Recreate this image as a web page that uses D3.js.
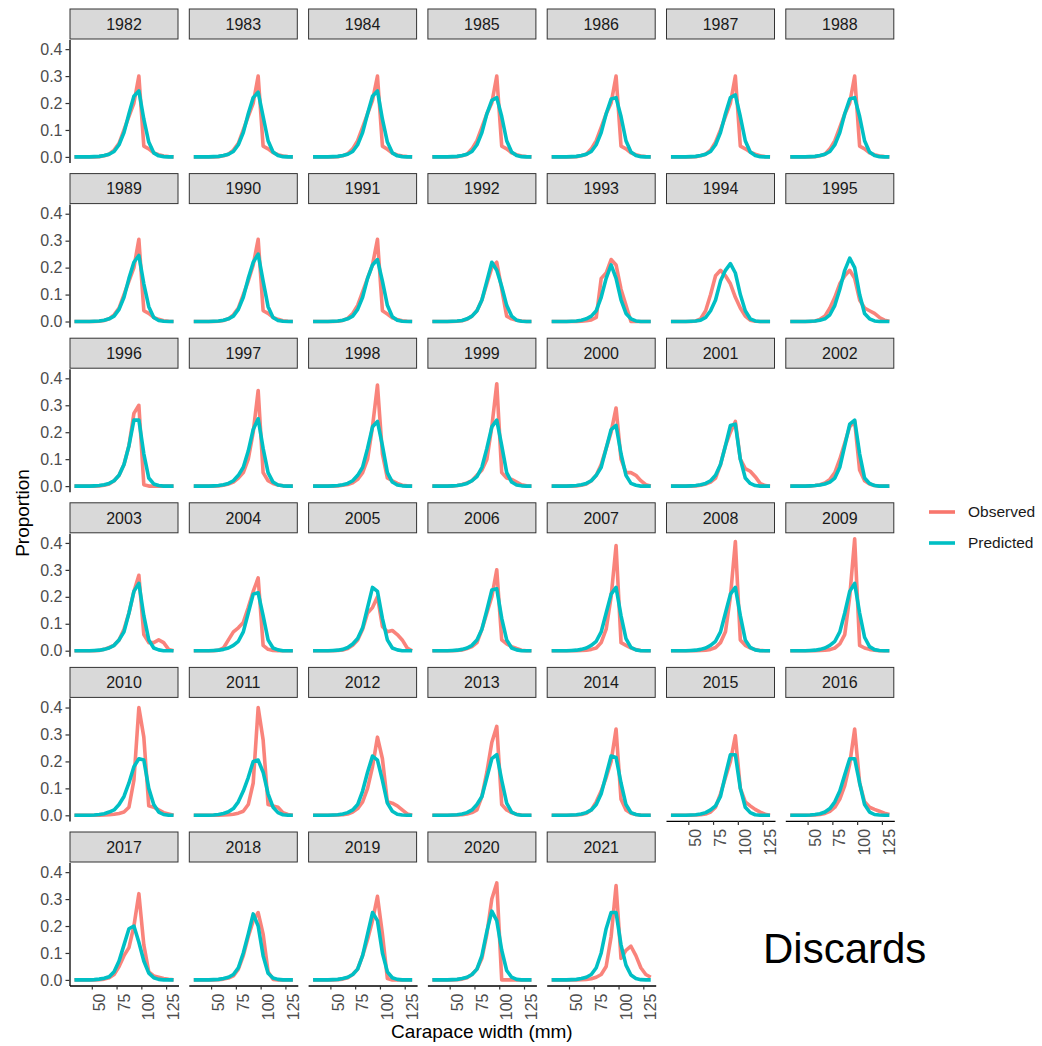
<!DOCTYPE html>
<html>
<head>
<meta charset="utf-8">
<script src="https://cdn.jsdelivr.net/npm/d3@7"></script>
<style>
  body { margin: 0; background: #fff; }
  svg text { font-family: "Liberation Sans", Arial, sans-serif; }
</style>
</head>
<body>
<div id="chart"></div>
<script>
// carapace width bins (mm)
var widths = [32.5, 37.5, 42.5, 47.5, 52.5, 57.5, 62.5, 67.5, 72.5, 77.5, 82.5,
              87.5, 92.5, 97.5, 102.5, 107.5, 112.5, 117.5, 122.5, 127.5, 132.5];

var years = [1982, 1983, 1984, 1985, 1986, 1987, 1988,
             1989, 1990, 1991, 1992, 1993, 1994, 1995,
             1996, 1997, 1998, 1999, 2000, 2001, 2002,
             2003, 2004, 2005, 2006, 2007, 2008, 2009,
             2010, 2011, 2012, 2013, 2014, 2015, 2016,
             2017, 2018, 2019, 2020, 2021];

var observed = [
  [0,0,0,0,0,0.001,0.004,0.01,0.025,0.05,0.1,0.15,0.2,0.3,0.04,0.03,0.015,0.008,0.003,0.001,0],
  [0,0,0,0,0,0.001,0.004,0.01,0.025,0.05,0.1,0.15,0.2,0.3,0.04,0.03,0.016,0.008,0.003,0.001,0],
  [0,0,0,0,0,0.001,0.004,0.012,0.03,0.06,0.11,0.16,0.21,0.3,0.04,0.028,0.014,0.007,0.003,0.001,0],
  [0,0,0,0,0,0.001,0.004,0.01,0.03,0.06,0.11,0.16,0.2,0.3,0.04,0.03,0.015,0.008,0.003,0.001,0],
  [0,0,0,0,0,0.001,0.004,0.01,0.03,0.06,0.11,0.16,0.2,0.3,0.04,0.03,0.015,0.008,0.003,0.001,0],
  [0,0,0,0,0,0.001,0.004,0.01,0.025,0.055,0.1,0.15,0.2,0.3,0.04,0.03,0.018,0.01,0.004,0.001,0],
  [0,0,0,0,0,0.001,0.004,0.01,0.03,0.06,0.11,0.16,0.2,0.3,0.04,0.03,0.015,0.008,0.003,0.001,0],
  [0,0,0,0,0,0.001,0.004,0.01,0.025,0.05,0.1,0.15,0.2,0.305,0.04,0.03,0.015,0.008,0.003,0.001,0],
  [0,0,0,0,0,0.001,0.004,0.01,0.025,0.05,0.1,0.15,0.21,0.305,0.04,0.03,0.015,0.008,0.003,0.001,0],
  [0,0,0,0,0,0.001,0.004,0.012,0.03,0.06,0.11,0.16,0.21,0.305,0.04,0.028,0.014,0.007,0.003,0.001,0],
  [0,0,0,0,0,0.001,0.003,0.008,0.02,0.04,0.08,0.14,0.2,0.22,0.12,0.02,0.01,0.005,0.002,0,0],
  [0,0,0,0,0,0,0.001,0.003,0.006,0.015,0.16,0.18,0.23,0.21,0.12,0.06,0,0,0,0,0],
  [0,0,0,0,0,0.002,0.01,0.04,0.1,0.17,0.19,0.17,0.14,0.09,0.05,0.02,0.005,0.001,0,0,0],
  [0,0,0,0,0,0.002,0.008,0.02,0.05,0.09,0.14,0.17,0.19,0.16,0.08,0.05,0.04,0.03,0.015,0.005,0.001],
  [0,0,0,0,0,0.001,0.003,0.008,0.02,0.04,0.08,0.15,0.27,0.3,0.005,0,0,0,0,0,0],
  [0,0,0,0,0,0.001,0.003,0.008,0.015,0.03,0.05,0.1,0.2,0.355,0.05,0.02,0.01,0.004,0.001,0,0],
  [0,0,0,0,0,0.001,0.003,0.006,0.012,0.025,0.05,0.1,0.22,0.375,0.12,0.03,0.02,0.01,0.003,0.001,0],
  [0,0,0,0,0,0.002,0.006,0.012,0.02,0.04,0.06,0.1,0.22,0.38,0.05,0.03,0.025,0.015,0.005,0.001,0],
  [0,0,0,0,0,0.001,0.003,0.008,0.02,0.04,0.08,0.14,0.2,0.29,0.1,0.05,0.05,0.04,0.02,0.005,0],
  [0,0,0,0,0,0.001,0.003,0.008,0.015,0.03,0.08,0.15,0.2,0.24,0.1,0.065,0.055,0.035,0.01,0.002,0],
  [0,0,0,0,0,0.002,0.005,0.012,0.025,0.05,0.1,0.16,0.22,0.24,0.06,0.02,0.008,0.002,0,0,0],
  [0,0,0,0,0,0.001,0.005,0.012,0.02,0.04,0.08,0.14,0.22,0.28,0.06,0.03,0.03,0.04,0.03,0.005,0],
  [0,0,0,0,0,0.002,0.01,0.04,0.07,0.085,0.105,0.16,0.22,0.27,0.02,0.005,0.001,0,0,0,0],
  [0,0,0,0,0,0.001,0.003,0.008,0.02,0.04,0.08,0.14,0.16,0.2,0.09,0.07,0.075,0.06,0.04,0.01,0],
  [0,0,0,0,0,0.001,0.003,0.008,0.015,0.03,0.08,0.14,0.2,0.3,0.04,0.025,0.015,0.008,0.002,0,0],
  [0,0,0,0,0,0,0.001,0.002,0.005,0.01,0.03,0.08,0.2,0.39,0.03,0.02,0.01,0.004,0.001,0,0],
  [0,0,0,0,0,0,0.001,0.002,0.005,0.012,0.03,0.07,0.2,0.405,0.04,0.02,0.01,0.004,0.001,0,0],
  [0,0,0,0,0,0,0.001,0.002,0.004,0.01,0.025,0.06,0.2,0.415,0.02,0.01,0.005,0.002,0,0,0],
  [0,0,0,0,0,0,0.001,0.002,0.004,0.007,0.012,0.03,0.13,0.4,0.29,0.035,0.03,0.02,0.01,0.005,0],
  [0,0,0,0,0,0,0.001,0.002,0.004,0.008,0.015,0.04,0.12,0.4,0.28,0.04,0.035,0.03,0.01,0.003,0],
  [0,0,0,0,0,0.001,0.002,0.005,0.012,0.025,0.05,0.1,0.18,0.29,0.21,0.05,0.045,0.035,0.02,0.005,0],
  [0,0,0,0,0,0.001,0.002,0.005,0.01,0.02,0.07,0.16,0.27,0.33,0.04,0.02,0.01,0.004,0.001,0,0],
  [0,0,0,0,0,0.001,0.003,0.008,0.02,0.05,0.09,0.14,0.2,0.32,0.06,0.02,0.008,0.003,0.001,0,0],
  [0,0,0,0,0,0.001,0.002,0.005,0.012,0.03,0.08,0.14,0.2,0.295,0.1,0.05,0.035,0.022,0.012,0.004,0],
  [0,0,0,0,0,0.001,0.003,0.007,0.015,0.03,0.06,0.11,0.19,0.32,0.12,0.05,0.03,0.022,0.015,0.008,0.003],
  [0,0,0,0,0,0.001,0.003,0.008,0.02,0.05,0.09,0.12,0.2,0.32,0.13,0.03,0.015,0.01,0.005,0.002,0],
  [0,0,0,0,0,0.001,0.003,0.007,0.015,0.04,0.09,0.16,0.22,0.25,0.17,0.03,0.002,0,0,0,0],
  [0,0,0,0,0,0.001,0.003,0.008,0.02,0.04,0.09,0.15,0.22,0.31,0.17,0.005,0,0,0,0,0],
  [0,0,0,0,0,0.001,0.003,0.008,0.02,0.04,0.08,0.17,0.3,0.36,0,0,0,0,0,0,0],
  [0,0,0,0,0,0,0.001,0.002,0.004,0.01,0.02,0.05,0.16,0.35,0.08,0.11,0.125,0.09,0.045,0.02,0.01]
];

var predicted = [
  [0,0,0,0,0.001,0.002,0.005,0.01,0.02,0.045,0.09,0.16,0.225,0.245,0.14,0.055,0.015,0.004,0.001,0,0],
  [0,0,0,0,0.001,0.002,0.005,0.01,0.02,0.045,0.09,0.16,0.22,0.24,0.15,0.06,0.018,0.005,0.001,0,0],
  [0,0,0,0,0.001,0.002,0.005,0.01,0.02,0.045,0.09,0.16,0.225,0.245,0.14,0.055,0.015,0.004,0.001,0,0],
  [0,0,0,0,0.001,0.002,0.005,0.01,0.02,0.045,0.09,0.16,0.21,0.22,0.15,0.06,0.018,0.005,0.001,0,0],
  [0,0,0,0,0.001,0.002,0.005,0.01,0.02,0.045,0.09,0.16,0.215,0.22,0.15,0.06,0.018,0.005,0.001,0,0],
  [0,0,0,0,0.001,0.002,0.005,0.01,0.02,0.045,0.09,0.16,0.22,0.23,0.15,0.06,0.018,0.005,0.001,0,0],
  [0,0,0,0,0.001,0.002,0.005,0.01,0.02,0.045,0.09,0.16,0.215,0.22,0.15,0.06,0.018,0.005,0.001,0,0],
  [0,0,0,0,0.001,0.002,0.005,0.01,0.02,0.045,0.09,0.16,0.22,0.245,0.14,0.055,0.015,0.004,0.001,0,0],
  [0,0,0,0,0.001,0.002,0.005,0.01,0.02,0.045,0.09,0.16,0.22,0.25,0.15,0.055,0.015,0.004,0.001,0,0],
  [0,0,0,0,0.001,0.002,0.005,0.01,0.02,0.045,0.09,0.16,0.21,0.23,0.15,0.06,0.018,0.005,0.001,0,0],
  [0,0,0,0,0.001,0.002,0.004,0.01,0.02,0.04,0.08,0.15,0.22,0.19,0.13,0.06,0.02,0.005,0.001,0,0],
  [0,0,0,0,0.001,0.002,0.005,0.01,0.02,0.04,0.09,0.16,0.21,0.16,0.08,0.03,0.01,0.002,0,0,0],
  [0,0,0,0,0.001,0.002,0.005,0.015,0.04,0.08,0.15,0.19,0.215,0.18,0.1,0.04,0.01,0.002,0,0,0],
  [0,0,0,0,0.001,0.002,0.005,0.01,0.025,0.06,0.12,0.19,0.235,0.2,0.1,0.03,0.01,0.002,0,0,0],
  [0,0,0,0,0.001,0.002,0.005,0.01,0.02,0.04,0.08,0.15,0.245,0.245,0.12,0.03,0.008,0.002,0,0,0],
  [0,0,0,0,0.001,0.002,0.005,0.01,0.02,0.04,0.07,0.13,0.21,0.25,0.14,0.05,0.015,0.004,0.001,0,0],
  [0,0,0,0,0.001,0.002,0.005,0.01,0.02,0.04,0.07,0.14,0.22,0.24,0.15,0.05,0.015,0.004,0.001,0,0],
  [0,0,0,0,0.001,0.002,0.005,0.01,0.02,0.035,0.07,0.14,0.22,0.245,0.15,0.05,0.015,0.004,0.001,0,0],
  [0,0,0,0,0.001,0.002,0.005,0.01,0.02,0.04,0.07,0.14,0.21,0.225,0.12,0.04,0.01,0.003,0,0,0],
  [0,0,0,0,0.001,0.002,0.005,0.01,0.02,0.04,0.08,0.15,0.225,0.23,0.1,0.03,0.01,0.002,0,0,0],
  [0,0,0,0,0.001,0.002,0.004,0.008,0.015,0.03,0.07,0.15,0.23,0.245,0.12,0.03,0.01,0.002,0,0,0],
  [0,0,0,0,0.001,0.002,0.005,0.01,0.02,0.04,0.07,0.14,0.22,0.25,0.13,0.04,0.01,0.003,0,0,0],
  [0,0,0,0,0.001,0.002,0.005,0.01,0.02,0.035,0.07,0.14,0.21,0.215,0.13,0.04,0.01,0.003,0,0,0],
  [0,0,0,0,0.001,0.002,0.005,0.012,0.025,0.045,0.085,0.16,0.235,0.22,0.12,0.04,0.01,0.003,0,0,0],
  [0,0,0,0,0.001,0.002,0.005,0.01,0.02,0.04,0.08,0.15,0.225,0.23,0.12,0.04,0.01,0.003,0,0,0],
  [0,0,0,0,0.001,0.002,0.005,0.01,0.02,0.035,0.07,0.14,0.21,0.235,0.13,0.045,0.012,0.003,0,0,0],
  [0,0,0,0,0.001,0.002,0.005,0.01,0.02,0.035,0.07,0.14,0.21,0.235,0.13,0.04,0.012,0.003,0,0,0],
  [0,0,0,0,0.001,0.002,0.005,0.01,0.02,0.035,0.07,0.14,0.22,0.25,0.14,0.05,0.015,0.004,0.001,0,0],
  [0,0,0,0,0.001,0.003,0.006,0.012,0.02,0.04,0.07,0.12,0.18,0.21,0.205,0.1,0.04,0.012,0.003,0,0],
  [0,0,0,0,0.001,0.003,0.007,0.013,0.025,0.05,0.09,0.14,0.2,0.205,0.16,0.08,0.03,0.01,0.002,0,0],
  [0,0,0,0,0.001,0.002,0.005,0.01,0.02,0.04,0.09,0.16,0.22,0.205,0.13,0.045,0.015,0.004,0.001,0,0],
  [0,0,0,0,0.001,0.002,0.005,0.01,0.02,0.04,0.07,0.14,0.21,0.225,0.13,0.045,0.012,0.003,0,0,0],
  [0,0,0,0,0.001,0.002,0.005,0.01,0.02,0.04,0.08,0.15,0.22,0.215,0.12,0.04,0.01,0.003,0,0,0],
  [0,0,0,0,0.001,0.002,0.005,0.01,0.02,0.035,0.07,0.15,0.225,0.225,0.1,0.03,0.01,0.002,0,0,0],
  [0,0,0,0,0.001,0.003,0.006,0.012,0.025,0.05,0.09,0.15,0.21,0.21,0.12,0.04,0.012,0.003,0.001,0,0],
  [0,0,0,0,0.001,0.003,0.006,0.012,0.03,0.07,0.13,0.19,0.2,0.14,0.07,0.025,0.008,0.002,0,0,0],
  [0,0,0,0,0.001,0.002,0.005,0.01,0.02,0.045,0.1,0.17,0.245,0.2,0.09,0.025,0.007,0.002,0,0,0],
  [0,0,0,0,0.001,0.002,0.005,0.01,0.02,0.04,0.09,0.17,0.25,0.22,0.1,0.03,0.008,0.002,0,0,0],
  [0,0,0,0,0.001,0.002,0.005,0.01,0.02,0.04,0.09,0.18,0.255,0.22,0.11,0.035,0.01,0.002,0,0,0],
  [0,0,0,0,0.001,0.002,0.005,0.01,0.02,0.045,0.1,0.19,0.25,0.25,0.13,0.055,0.018,0.005,0.001,0,0]
];

var seriesNames = ["Observed", "Predicted"];
var xTicks = [50, 75, 100, 125];
var yTicks = [0, 0.1, 0.2, 0.3, 0.4];

function color(d) {
    if (d === "Observed") {
        return "#F8766D";
    } else {
        return "#00BFC4";
    }
}

var chartW = 1042, chartH = 1046;
var ncol = 7;
var gridLeft = 69.5, colStep = 119.3, panelW = 109;
var gridTop = 8.5, rowStep = 164.6, stripH = 31, plotH = 123;

var svg = d3.select("#chart")
    .append("svg")
    .attr("width", chartW)
    .attr("height", chartH);

var x = d3.scaleLinear()
    .domain([widths[0] - 5, widths[widths.length - 1] + 5])
    .range([0, panelW]);

var yMax = d3.max(observed.concat(predicted), function(a) { return d3.max(a); });
var y = d3.scaleLinear()
    .domain([-0.05 * yMax, 1.05 * yMax])
    .range([plotH, 0]);

var line = d3.line()
    .x(function(d, j) { return x(widths[j]); })
    .y(function(d) { return y(d); });

years.forEach(function(yr, i) {
    var col = i % ncol, row = Math.floor(i / ncol);
    var g = svg.append("g")
        .attr("transform", "translate(" + (gridLeft + col * colStep) + "," + (gridTop + row * rowStep) + ")");

    // strip
    g.append("rect")
        .attr("x", 0.5)
        .attr("y", 0.5)
        .attr("width", panelW - 1)
        .attr("height", stripH - 1)
        .attr("fill", "#d9d9d9")
        .attr("stroke", "#333333")
        .attr("stroke-width", 1);
    g.append("text")
        .attr("x", panelW / 2)
        .attr("y", stripH / 2)
        .attr("dy", "0.36em")
        .attr("text-anchor", "middle")
        .attr("font-size", "16px")
        .attr("fill", "#1a1a1a")
        .text(yr);

    var p = g.append("g").attr("transform", "translate(0," + stripH + ")");

    p.append("path")
        .datum(observed[i])
        .attr("d", line)
        .attr("fill", "none")
        .attr("stroke", color("Observed"))
        .attr("stroke-opacity", 0.9)
        .attr("stroke-width", 3.6)
        .attr("stroke-linejoin", "round");

    p.append("path")
        .datum(predicted[i])
        .attr("d", line)
        .attr("fill", "none")
        .attr("stroke", color("Predicted"))
        .attr("stroke-width", 3.6)
        .attr("stroke-linejoin", "round");

    if (col === 0) {
        var ya = p.append("g")
            .call(d3.axisLeft(y).tickValues(yTicks).tickFormat(d3.format(".1f")).tickSize(4).tickSizeOuter(0).tickPadding(3));
        ya.select(".domain").attr("stroke", "#000").attr("stroke-width", 1.3);
        ya.selectAll(".tick line").attr("stroke", "#333").attr("stroke-width", 1.2);
        ya.selectAll(".tick text")
            .attr("fill", "#4d4d4d")
            .attr("font-size", "16px")
            .attr("font-family", "Liberation Sans, Arial, sans-serif");
    }

    // bottom axis where no panel sits below
    if (i + ncol >= years.length) {
        var xa = p.append("g")
            .attr("transform", "translate(0," + plotH + ")")
            .call(d3.axisBottom(x).tickValues(xTicks).tickSize(4).tickSizeOuter(0));
        xa.select(".domain").attr("stroke", "#000").attr("stroke-width", 1.3);
        xa.selectAll(".tick line").attr("stroke", "#333").attr("stroke-width", 1.2);
        xa.selectAll(".tick text")
            .attr("transform", "rotate(-90)")
            .attr("text-anchor", "end")
            .attr("x", -8)
            .attr("y", 7)
            .attr("dy", "0.35em")
            .attr("fill", "#4d4d4d")
            .attr("font-size", "16px")
            .attr("font-family", "Liberation Sans, Arial, sans-serif");
    }
});

// axis titles
svg.append("text")
    .attr("x", gridLeft + (6 * colStep + panelW) / 2)
    .attr("y", 1038)
    .attr("text-anchor", "middle")
    .attr("font-size", "19px")
    .text("Carapace width (mm)");

svg.append("text")
    .attr("transform", "translate(29,513) rotate(-90)")
    .attr("text-anchor", "middle")
    .attr("font-size", "19px")
    .text("Proportion");

// legend
var legend = svg.selectAll("g.legend")
    .data(seriesNames)
    .enter()
    .append("g")
    .attr("class", "legend")
    .attr("transform", function(d, i) { return "translate(929," + (512 + i * 31) + ")"; });

legend.append("line")
    .attr("x1", 0)
    .attr("x2", 26)
    .attr("stroke", function(d) { return color(d); })
    .attr("stroke-width", 3.6);

legend.append("text")
    .attr("x", 39)
    .attr("dy", "0.35em")
    .attr("font-size", "15.5px")
    .attr("fill", "#1a1a1a")
    .text(function(d) { return d; });

svg.append("text")
    .attr("x", 763)
    .attr("y", 963)
    .attr("font-size", "42px")
    .attr("fill", "#000")
    .text("Discards");
</script>
</body>
</html>
